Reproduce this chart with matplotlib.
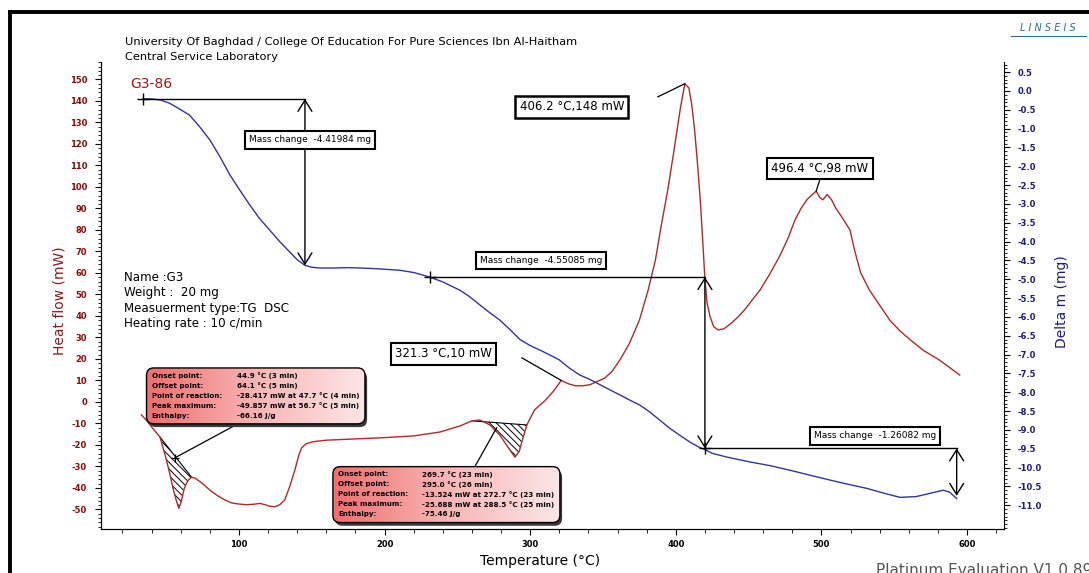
import numpy as np
import matplotlib.pyplot as plt
from matplotlib.patches import FancyBboxPatch
from matplotlib.lines import Line2D
from matplotlib.colors import LinearSegmentedColormap
from matplotlib.ticker import MultipleLocator, FormatStrFormatter

plt.rcParams['axes.unicode_minus'] = False
plt.rcParams['hatch.linewidth'] = 0.7

# DSC curve (heat flow, mW)
temp_dsc = [33, 37, 41, 45.7, 49, 52, 55, 57, 58.7, 60.5, 62.5, 65, 67.4, 70, 75, 80, 85, 90, 95,
            100, 105, 110, 114.4, 118, 121, 124.6, 128, 131.5, 135, 138.4, 141, 143, 146, 150.8,
            160, 180, 200, 220, 238, 251.7, 260, 265.4, 272.3, 279, 286, 289.5, 292.5, 294.5,
            297.7, 303, 310, 316, 321.3, 326, 331, 336, 341, 346, 351, 356, 361.6, 368, 375, 381,
            386, 390, 394.6, 399, 403, 406.2, 409, 411, 413, 415, 416.8, 418.5, 420, 421.5, 423.4,
            426, 429, 433, 437, 442, 447.5, 452, 457.8, 465, 471.5, 477, 481.8, 486, 490, 493,
            496.4, 499, 501, 504, 507, 510, 514, 519.6, 523, 527, 533, 540, 547, 554, 560.8, 570,
            581, 588, 595]
heat_flow = [-6, -9, -12.5, -16.3, -24, -32, -41, -46, -49.5, -46, -40, -36.5, -35, -35.5, -38,
             -41, -43.5, -45.5, -47, -47.5, -47.8, -47.6, -47.2, -47.8, -48.5, -48.8, -47.8,
             -45.5, -39, -31.6, -25, -21.4, -19.5, -18.5, -17.8, -17.2, -16.6, -15.8, -14, -11.2,
             -8.8, -8.4, -10.7, -15.3, -22.3, -25.7, -23, -18, -10.7, -3.7, 0.5, 5, 10, 8.5, 7.5,
             7.5, 8, 9.5, 11, 14, 19.5, 27, 38, 52, 66, 82, 99, 118, 136, 148, 146, 138, 126,
             110, 94, 75, 57, 46, 40, 35, 33.5, 34, 36, 39, 43, 47, 52, 60, 68, 76, 84.5, 90, 94,
             96, 98, 95, 94, 96.5, 94, 90, 86, 80, 70, 60, 52, 45, 38, 33, 29, 24, 19.5, 16, 12.5]

# TG curve (delta m, mg)
temp_tg = [34, 40, 46, 52, 58, 66, 73, 80, 87, 93.8, 100, 107.5, 114, 121, 128, 135, 140, 145.3,
           150, 155.5, 165, 175, 183, 195, 210.5, 220, 231, 240, 251.7, 258, 265.4, 272, 279,
           286, 293, 300, 306.7, 313, 320, 327, 334, 341, 348, 355, 361.6, 368, 375.3, 382, 389,
           396, 402.7, 410, 416, 420, 425, 435, 451, 465, 478.4, 492, 505.8, 518, 531, 543, 554,
           565, 575, 583.6, 588, 592.9]
delta_m = [-0.21, -0.21, -0.24, -0.32, -0.45, -0.64, -0.95, -1.3, -1.75, -2.23, -2.6, -3.03,
           -3.38, -3.69, -4.0, -4.28, -4.48, -4.63, -4.68, -4.70, -4.70, -4.69, -4.70, -4.72,
           -4.76, -4.82, -4.94, -5.07, -5.29, -5.45, -5.68, -5.88, -6.08, -6.33, -6.6, -6.76,
           -6.88, -7.0, -7.14, -7.36, -7.54, -7.66, -7.8, -7.94, -8.07, -8.2, -8.34, -8.52,
           -8.74, -8.96, -9.14, -9.33, -9.46, -9.52, -9.62, -9.72, -9.85, -9.95, -10.07, -10.2,
           -10.33, -10.44, -10.55, -10.68, -10.79, -10.77, -10.68, -10.6, -10.65, -10.82]

# mass change steps: start T, end T, start level, change
mc_start = [34, 231, 420]
mc_end = [145.3, 420, 592.9]
mc_level = [-0.21, -4.94, -9.49]
mc_change = [-4.41984, -4.55085, -1.26082]
mc_labels = ['Mass change  -4.41984 mg', 'Mass change  -4.55085 mg', 'Mass change  -1.26082 mg']

# peaks
peak_t = [406.2, 496.4, 321.3]
peak_hf = [148, 98, 10]

# integrated regions
hatch_ranges = [(45.7, 67.4), (260, 297.7)]
info_labels = ['Onset point:', 'Offset point:', 'Point of reaction:', 'Peak maximum:', 'Enthalpy:']
info_values1 = ['44.9 \u00b0C (3 min)', '64.1 \u00b0C (5 min)', '-28.417 mW at 47.7 \u00b0C (4 min)',
                '-49.857 mW at 56.7 \u00b0C (5 min)', '-66.16 J/g']
info_values2 = ['269.7 \u00b0C (23 min)', '295.0 \u00b0C (26 min)', '-13.524 mW at 272.7 \u00b0C (23 min)',
                '-25.688 mW at 288.5 \u00b0C (25 min)', '-75.46 J/g']

red = '#b02a2a'
navy = '#1c1c78'

fig = plt.figure(figsize=(10.89, 5.73), dpi=100)
ax = fig.add_axes([0.0927, 0.0768, 0.8291, 0.8150])
ax2 = ax.twinx()

ax.plot(temp_dsc, heat_flow, color=red, lw=1, zorder=3)
ax2.plot(temp_tg, delta_m, color='#3434a0', lw=1, zorder=3)

# hatched peak areas
td = np.array(temp_dsc)
hd = np.array(heat_flow)
for a, b in hatch_ranges:
    m = (td >= a) & (td <= b)
    xs = td[m]
    ya = hd[td == a][0]
    yb = hd[td == b][0]
    base = ya + (yb - ya) * (xs - a) / (b - a)
    ax.fill_between(xs, hd[m], base, facecolor='none', edgecolor='black', hatch='\\\\\\\\\\', lw=0, zorder=2)
    ax.plot([a, b], [ya, yb], color='black', lw=0.8, zorder=2)

xlim = (5.2, 625.3)
ylim = (-59.1, 158.1)
asp = ((ylim[1] - ylim[0]) / 467) / ((xlim[1] - xlim[0]) / 903)
cmap = LinearSegmentedColormap.from_list('boxgrad', ['#ef6f6f', '#f8b5b5', '#fde6e6'])


def info_box(x0, x1, y0, y1, values, lx, vx, ty):
    shadow = FancyBboxPatch((x0 + 1.5, y0 - 1.5), x1 - x0, y1 - y0,
                            boxstyle='round,pad=0,rounding_size=5', mutation_aspect=asp,
                            fc='#3a3a3a', ec='none', zorder=6)
    ax.add_patch(shadow)
    box = FancyBboxPatch((x0, y0), x1 - x0, y1 - y0, boxstyle='round,pad=0,rounding_size=5',
                         mutation_aspect=asp, fc='none', ec='black', lw=1, zorder=8)
    ax.add_patch(box)
    im = ax.imshow(np.linspace(0, 1, 256).reshape(1, -1), extent=[x0, x1, y0, y1], cmap=cmap,
                   aspect='auto', zorder=7)
    im.set_clip_path(box)
    for i in range(5):
        yy = ty - i * 4.65
        ax.text(lx, yy, info_labels[i], fontsize=5.1, fontweight='bold', va='center', zorder=9,
                family=['Liberation Sans Narrow', 'DejaVu Sans'])
        ax.text(vx, yy, values[i], fontsize=5.1, fontweight='bold', va='center', zorder=9,
                family=['Liberation Sans Narrow', 'DejaVu Sans'])


info_box(36.5, 186.5, -10.2, 15.8, info_values1, 40.0, 98.4, 12.2)
info_box(164.5, 320.4, -56.1, -30.1, info_values2, 168.1, 225.4, -33.6)

# leaders from info boxes
ax.plot([99.2, 56], [-10.2, -26], color='black', lw=0.9, zorder=5)
ax.plot([56], [-26], marker='+', color='black', ms=6, mew=0.9, zorder=5)
ax.plot([262, 277], [-30.1, -12], color='black', lw=0.9, zorder=5)

# peak labels
lab_pos = [(328.6, 137.2), (499, 108.4), (240.7, 22.3)]
lead_from = [(387.7, 141.9), (499, 103.6), (294.3, 20.5)]
lab_lw = [1.8, 1.5, 1.5]
for i in range(3):
    ax.plot([lead_from[i][0], peak_t[i]], [lead_from[i][1], peak_hf[i]], color='black', lw=0.9, zorder=5)
    ax.text(lab_pos[i][0], lab_pos[i][1], '%.1f \u00b0C,%g mW' % (peak_t[i], peak_hf[i]),
            ha='center', va='center', fontsize=8.5, zorder=9,
            bbox=dict(boxstyle='square,pad=0.35', fc='white', ec='black', lw=lab_lw[i]))

# mass change markers
mc_box = [(148.7, -1.30), (307.3, -4.49), (536.7, -9.16)]
for i in range(3):
    yl = mc_level[i]
    ye = yl + mc_change[i]
    ax2.plot([mc_start[i], mc_end[i]], [yl, yl], color='black', lw=1, zorder=4)
    ax2.plot([mc_start[i]], [yl], marker='+', color='black', ms=8, mew=1, zorder=4)
    ax2.annotate('', xy=(mc_end[i], ye), xytext=(mc_end[i], yl),
                 arrowprops=dict(arrowstyle='<->,head_length=0.8,head_width=0.5', color='black',
                                 lw=1, shrinkA=0, shrinkB=0), zorder=4)
    ax2.text(mc_box[i][0], mc_box[i][1], mc_labels[i], ha='center', va='center', fontsize=6.5,
             zorder=9, bbox=dict(boxstyle='square,pad=0.45', fc='white', ec='black', lw=1.5))

ax.text(25, 148, 'G3-86', color='#a01818', fontsize=10, va='center')
ax.text(21, 61, 'Name :G3\nWeight :  20 mg\nMeasuerment type:TG  DSC\nHeating rate : 10 c/min',
        fontsize=8.6, va='top', linespacing=1.25)

ax.set_xlim(*xlim)
ax.set_ylim(*ylim)
ax2.set_ylim(-11.63, 0.77)

ax.set_xticks([100, 200, 300, 400, 500, 600])
ax.xaxis.set_minor_locator(MultipleLocator(20))
ax.set_yticks(np.arange(-50, 151, 10))
ax.yaxis.set_minor_locator(MultipleLocator(2))
ax2.set_yticks(np.arange(-11, 0.51, 0.5))
ax2.yaxis.set_minor_locator(MultipleLocator(0.1))
ax2.yaxis.set_major_formatter(FormatStrFormatter('%.1f'))

for a in (ax, ax2):
    a.spines['top'].set_visible(False)
ax.spines['right'].set_visible(False)
ax.tick_params(axis='x', which='major', length=4, labelsize=6, pad=4)
ax.tick_params(axis='x', which='minor', length=3)
ax.tick_params(axis='y', which='major', length=4, labelsize=6, labelcolor='#8b0a0a', pad=6)
ax.tick_params(axis='y', which='minor', length=2)
ax2.tick_params(axis='y', which='major', length=4, labelsize=6, labelcolor=navy, pad=6)
ax2.tick_params(axis='y', which='minor', length=2)
for lab in ax.get_xticklabels() + ax.get_yticklabels() + ax2.get_yticklabels():
    lab.set_fontweight('bold')

fig.text(0.055, 0.476, 'Heat flow (mW)', rotation=90, color='#8b1a1a', fontsize=10,
         ha='center', va='center')
fig.text(0.975, 0.473, 'Delta m (mg)', rotation=90, color=navy, fontsize=10, ha='center', va='center')
fig.text(0.496, 0.021, 'Temperature (\u00b0C)', fontsize=10, ha='center', va='center')
fig.text(0.1148, 0.9267, 'University Of Baghdad / College Of Education For Pure Sciences Ibn Al-Haitham',
         fontsize=8.2, va='center')
fig.text(0.1148, 0.9005, 'Central Service Laboratory', fontsize=8.2, va='center')
fig.text(0.804, 0.004, 'Platinum Evaluation V1.0.89', fontsize=11, color='#555555', va='center')
fig.text(0.9625, 0.952, 'L I N S E I S', style='italic', fontsize=7, color='#2a6f97',
         ha='center', va='center')
fig.add_artist(Line2D([0.928, 0.997], [0.938, 0.938], color='#2a6f97', lw=0.8))

# outer frame
fig.add_artist(Line2D([0.009, 1.0], [0.979, 0.979], color='black', lw=2.8))
fig.add_artist(Line2D([0.009, 0.009], [0.0, 0.979], color='black', lw=2.8))

fig.savefig('out.png', dpi=100)
